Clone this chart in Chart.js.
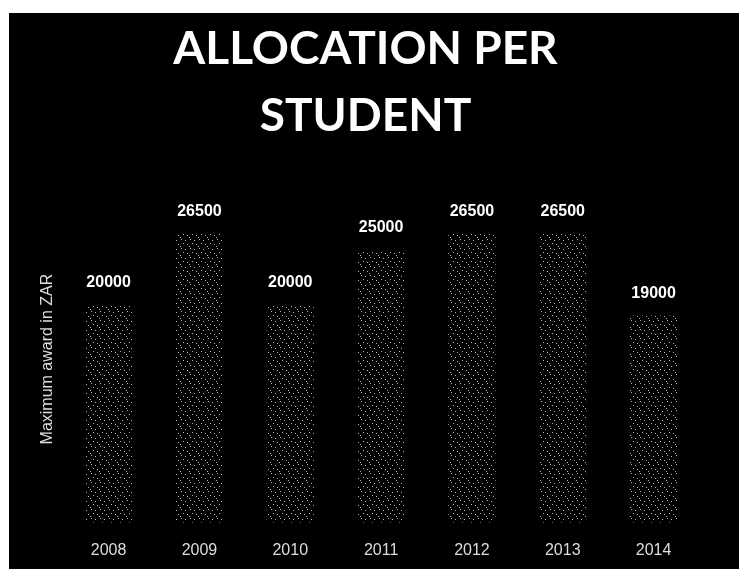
<!DOCTYPE html>
<html>
<head>
<meta charset="utf-8">
<script src="https://cdn.jsdelivr.net/npm/chart.js@4"></script>
<style>
    body { margin: 0; background: #fff; width: 739px; height: 569px; overflow: hidden; }
    #wrap { position: absolute; left: 9px; top: 13px; width: 730px; height: 556px; background: #000; overflow: hidden; }
</style>
</head>
<body>
<div id="wrap"><canvas id="allocChart" width="730" height="565"></canvas></div>
<script>
const years = ['2008', '2009', '2010', '2011', '2012', '2013', '2014'];
const maxAward = [20000, 26500, 20000, 25000, 26500, 26500, 19000];
const titleLines = ['ALLOCATION PER', 'STUDENT'];
const axisTitle = 'Maximum award in ZAR';

// speckled fill for the bars, like the scanned original
function dotPattern() {
    const tile = document.createElement('canvas');
    tile.width = 9;
    tile.height = 9;
    const t = tile.getContext('2d');
    t.fillStyle = '#000';
    t.fillRect(0, 0, 9, 9);
    t.fillStyle = '#b5b5b5';
    [[1, 1], [5, 2], [3, 5], [7, 6], [0, 8]].forEach(([x, y]) => t.fillRect(x, y, 1, 1));
    return t.createPattern(tile, 'repeat');
}

// value written above each bar
const valueLabels = {
    id: 'valueLabels',
    afterDatasetsDraw(chart) {
        const ctx = chart.ctx;
        const meta = chart.getDatasetMeta(0);
        ctx.save();
        ctx.fillStyle = '#fff';
        ctx.font = 'bold 16px "Liberation Sans", Arial, sans-serif';
        ctx.textAlign = 'center';
        ctx.textBaseline = 'bottom';
        meta.data.forEach((bar, i) => {
            ctx.fillText(maxAward[i], bar.x, bar.y - 14);
        });
        ctx.restore();
    }
};

const ctx = document.getElementById('allocChart').getContext('2d');
new Chart(ctx, {
    type: 'bar',
    data: {
        labels: years,
        datasets: [{
            data: maxAward,
            backgroundColor: dotPattern(),
            borderWidth: 0,
            barPercentage: 0.52,
            categoryPercentage: 1
        }]
    },
    options: {
        responsive: false,
        animation: false,
        layout: { padding: { left: 23, right: 40, top: 0, bottom: 0 } },
        plugins: {
            legend: { display: false },
            tooltip: { enabled: false },
            title: {
                display: true,
                text: titleLines,
                color: '#fff',
                font: { family: 'Lato, "Liberation Sans", sans-serif', size: 46, weight: 'bold', lineHeight: 1.45 },
                padding: { top: 3, bottom: 46 }
            }
        },
        scales: {
            y: {
                min: 0,
                max: 30000,
                grid: { display: false, drawTicks: false },
                border: { display: false },
                ticks: { display: false },
                title: {
                    display: true,
                    text: axisTitle,
                    color: '#ddd',
                    font: { family: '"Liberation Sans", Arial, sans-serif', size: 16 },
                    padding: 6
                }
            },
            x: {
                grid: { display: false, drawTicks: false },
                border: { display: false },
                ticks: {
                    color: '#ddd',
                    padding: 18,
                    font: { family: '"Liberation Sans", Arial, sans-serif', size: 16 }
                }
            }
        }
    },
    plugins: [valueLabels]
});
</script>
</body>
</html>
